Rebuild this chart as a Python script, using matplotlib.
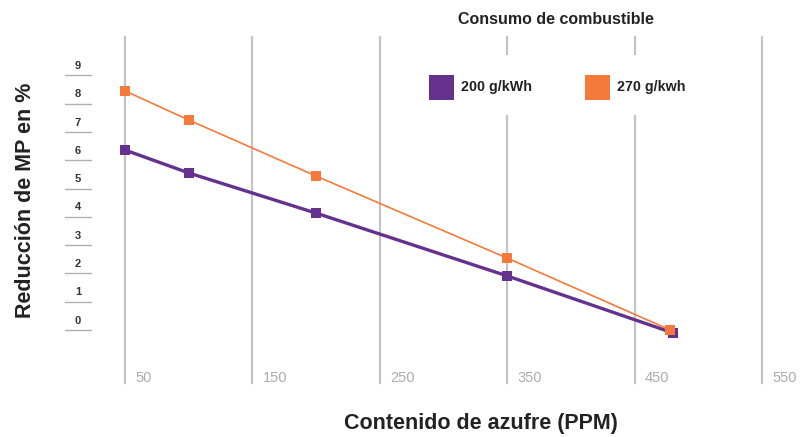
import matplotlib
matplotlib.use('Agg')
import matplotlib.pyplot as plt
from matplotlib import font_manager

# Datos
azufre_270 = [50, 100, 200, 350, 478]
reduc_270 = [8.45, 7.42, 5.44, 2.54, 0.0]
azufre_200 = [50, 100, 200, 350, 480]
reduc_200 = [6.36, 5.55, 4.13, 1.91, -0.1]
xticks = [50, 150, 250, 350, 450, 550]
yticks = list(range(10))
serie_labels = ['200 g/kWh', '270 g/kwh']

purple = '#65318f'
orange = '#f47a3c'
grid_c = '#c4c4c4'

names = {f.name for f in font_manager.fontManager.ttflist}
fam = ['Liberation Sans Narrow', 'DejaVu Sans'] if 'Liberation Sans Narrow' in names else ['Liberation Sans', 'DejaVu Sans']
plt.rcParams['font.family'] = fam

fig = plt.figure(figsize=(8.02, 4.37), dpi=100)
ax = fig.add_axes([0, 0, 1, 1])
# escala: px = 125 + (v-50)*1.274 ; py = 330 - 28.3*v
ax.set_xlim(50 - 125 / 1.274, 50 + 677 / 1.274)
ax.set_ylim(-107 / 28.3, 330 / 28.3)
ax.axis('off')

y_top = (330 - 37) / 28.3
y_bot = (330 - 383) / 28.3
gap_top = (330 - 54) / 28.3
gap_bot = (330 - 116) / 28.3
for x in xticks:
    if x in (350, 450):
        ax.plot([x, x], [y_top, gap_top], color=grid_c, lw=1.6, zorder=1)
        ax.plot([x, x], [gap_bot, y_bot], color=grid_c, lw=1.6, zorder=1)
    else:
        ax.plot([x, x], [y_top, y_bot], color=grid_c, lw=1.6, zorder=1)
    ax.text(x + 8, (330 - 378) / 28.3, str(x), color='#acacac', fontsize=10.5,
            ha='left', va='center')

# eje y: numeros con subrayado
xl0 = 50 - 60 / 1.274
xl1 = 50 - 34 / 1.274
for v in yticks:
    ax.plot([xl0, xl1], [v, v], color='#b0b0b0', lw=1)
    ax.text((xl0 + xl1) / 2, v + 0.33, str(v), color='#333333', fontsize=8,
            ha='center', va='center', fontweight='bold')

ax.plot(azufre_270, reduc_270, color=orange, lw=1.2, marker='s', ms=7.5,
        markeredgewidth=0, zorder=3)
ax.plot(azufre_200, reduc_200, color=purple, lw=2.4, marker='s', ms=7.5,
        markeredgewidth=0, zorder=2)

# leyenda
lx = [50 + (441 - 125) / 1.274, 50 + (597 - 125) / 1.274]
ly = (330 - 87) / 28.3
for x0, c, lab in zip(lx, [purple, orange], serie_labels):
    ax.plot([x0], [ly], marker='s', ms=18, color=c, markeredgewidth=0, zorder=4)
    ax.text(x0 + 20 / 1.274, ly, lab, fontsize=10.3, fontweight='bold',
            color='#222222', ha='left', va='center')

fig.text(556 / 802, 1 - 19 / 437, 'Consumo de combustible', fontsize=11.5,
         fontweight='bold', color='#222222', ha='center', va='center')
fig.text(481 / 802, 1 - 423 / 437, 'Contenido de azufre (PPM)', fontsize=15.5,
         fontweight='bold', color='#222222', ha='center', va='center')
fig.text(26 / 802, 1 - 200 / 437, 'Reducción de MP en %', fontsize=15.5,
         fontweight='bold', color='#222222', ha='center', va='center', rotation=90)

fig.savefig('out.png', dpi=100)
